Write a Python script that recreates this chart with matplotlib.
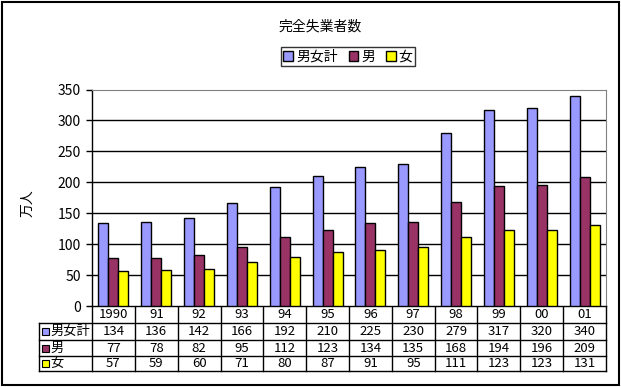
import numpy as np
import matplotlib
matplotlib.use('Agg')
import matplotlib.pyplot as plt
from matplotlib.patches import Rectangle
from matplotlib.transforms import blended_transform_factory

plt.rcParams['font.family'] = ['Noto Sans CJK JP', 'DejaVu Sans']

# data
years = ['1990', '91', '92', '93', '94', '95', '96', '97', '98', '99', '00', '01']
total = [134, 136, 142, 166, 192, 210, 225, 230, 279, 317, 320, 340]
male = [77, 78, 82, 95, 112, 123, 134, 135, 168, 194, 196, 209]
female = [57, 59, 60, 71, 80, 87, 91, 95, 111, 123, 123, 131]
series_names = ['男女計', '男', '女']
colors = ['#9999FF', '#993366', '#FFFF00']

W, H = 621, 387
fig = plt.figure(figsize=(W / 100, H / 100), dpi=100)

# overlay in pixel coordinates for title, border and table
ov = fig.add_axes([0, 0, 1, 1])
ov.set_xlim(0, W)
ov.set_ylim(H, 0)
ov.axis('off')
ov.patch.set_visible(False)

left, right, top, bottom = 92, 606, 89.5, 306
ax = fig.add_axes([left / W, 1 - bottom / H, (right - left) / W, (bottom - top) / H])

x = np.arange(len(years)) + 0.5
bw = 0.234
handles = []
for k, (vals, c) in enumerate(zip([total, male, female], colors)):
    b = ax.bar(x + (k - 1) * bw, vals, width=bw, color=c, edgecolor='black',
               linewidth=1, label=series_names[k], zorder=3)
    handles.append(b)

ax.set_xlim(0, len(years))
ax.set_ylim(0, 350)
ax.set_yticks(range(0, 351, 50))
ax.set_xticks([])
for yv in range(50, 301, 50):
    ax.axhline(yv, color='black', linewidth=1, zorder=1)
ax.tick_params(axis='y', length=4, width=1, direction='out', labelsize=10, pad=4)
ax.spines['top'].set_color('#808080')
ax.spines['right'].set_color('#808080')
ax.spines['left'].set_linewidth(1)
ax.spines['bottom'].set_linewidth(1)

# title, y label
ov.text(320, 27, '完全失業者数', ha='center', va='center', fontsize=10)
ov.text(27, 203, '万人', ha='center', va='center', rotation=90, fontsize=10)

# legend
leg = fig.legend(handles=handles, labels=series_names, loc='center', ncol=3,
                 bbox_to_anchor=(348, 56.5), bbox_transform=ov.transData,
                 fontsize=10, frameon=True, fancybox=False, edgecolor='black',
                 handlelength=0.7, handleheight=0.7, handletextpad=0.2,
                 columnspacing=0.8, borderpad=0.2, borderaxespad=0)
leg.get_frame().set_linewidth(1)

# data table
tr = blended_transform_factory(ax.transData, ov.transData)
rows_y = [306, 323, 340, 356, 371]
tbl_left = 39
for yy in rows_y[1:]:
    ov.plot([tbl_left, right], [yy, yy], color='black', linewidth=1)
ov.plot([tbl_left, tbl_left], [rows_y[1], rows_y[-1]], color='black', linewidth=1)
for i in range(len(years) + 1):
    ov.plot([i, i], [rows_y[0], rows_y[-1]], color='black', linewidth=1, transform=tr)

for i, yr in enumerate(years):
    ov.text(x[i], (rows_y[0] + rows_y[1]) / 2, yr, ha='center', va='center',
            fontsize=9.5, transform=tr)
for r, vals in enumerate([total, male, female]):
    yc = (rows_y[r + 1] + rows_y[r + 2]) / 2
    for i, v in enumerate(vals):
        ov.text(x[i], yc, str(v), ha='center', va='center', fontsize=9.5, transform=tr)
    ov.add_patch(Rectangle((41.5, yc - 3.5), 7, 7, facecolor=colors[r],
                           edgecolor='black', linewidth=0.8))
    ov.text(50, yc, series_names[r], ha='left', va='center', fontsize=9.5)

# outer border
ov.add_patch(Rectangle((1.5, 1.5), 617.5, 383.5, fill=False, edgecolor='black', linewidth=1.5))

fig.savefig('out.png', dpi=100)
